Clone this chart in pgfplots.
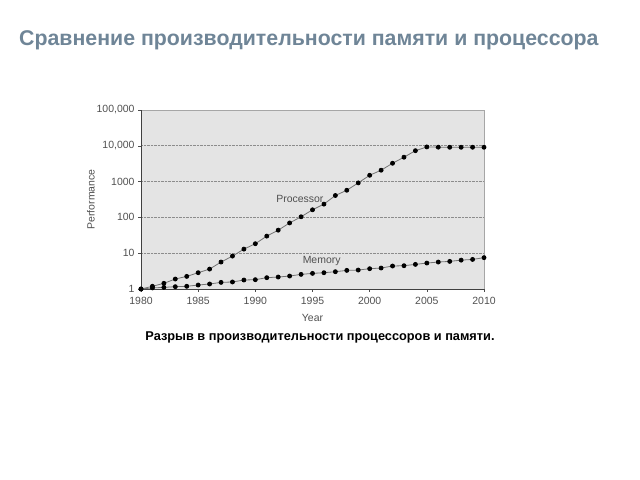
\documentclass[border=0pt]{standalone}
\usepackage{fontspec}
\setmainfont{Liberation Sans}
\usepackage{pgfplots}
\pgfplotsset{compat=1.18}
\definecolor{titlecol}{HTML}{6F8597}
\definecolor{bgfill}{HTML}{E4E4E4}
\definecolor{txtgray}{HTML}{505050}
\begin{document}
\begin{tikzpicture}[x=1bp,y=1bp]
\path[use as bounding box] (0,0) rectangle (640,480);
\node[anchor=west,inner sep=0,text=titlecol,font=\fontsize{21.4}{25}\selectfont\bfseries] at (19,440) {Сравнение производительности памяти и процессора};
\node[anchor=center,inner sep=0,text=black,font=\fontsize{12.8}{15}\selectfont\bfseries] at (320,143) {Разрыв в производительности процессоров и памяти.};
\begin{axis}[
  at={(141bp,191bp)}, anchor=south west,
  scale only axis, width=343bp, height=179bp,
  ymode=log, xmin=1980, xmax=2010, ymin=1, ymax=100000,
  axis background/.style={fill=bgfill},
  axis line style={draw=black!35},
  separate axis lines,
  axis x line*=box, axis y line*=box,
  ytick={1,10,100,1000,10000,100000},
  yticklabels={1,10,100,1000,{10,000},{100,000}},
  xtick={1980,1985,1990,1995,2000,2005,2010},
  xticklabels={1980,1985,1990,1995,2000,2005,2010},
  minor tick num=0, yminorticks=false,
  tick align=outside, major tick length=3bp,
  tick style={draw=black!70, thin},
  xtick pos=bottom, ytick pos=left,
  ymajorgrids, grid style={densely dotted, draw=black!45, line width=0.6pt},
  ticklabel style={font=\fontsize{10.5}{12}\selectfont, text=txtgray},
  xticklabel style={yshift=-2bp},
  /pgf/number format/assume math mode=true,
  xlabel={Year}, ylabel={Performance},
  label style={font=\fontsize{10.5}{12}\selectfont, text=txtgray},
  xlabel style={yshift=-3bp},
  ylabel style={yshift=-5bp},
  clip=false,
]
\draw[black!75, line width=0.8pt] (rel axis cs:0,0) -- (rel axis cs:0,1);
\draw[black!75, line width=0.8pt] (rel axis cs:0,0) -- (rel axis cs:1,0);
\addplot[black!55, line width=0.8pt, mark=*, mark size=2bp, mark options={fill=black, draw=black}] coordinates {
(1980,1.0) (1981,1.19) (1982,1.44) (1983,1.9) (1984,2.25) (1985,2.85)
(1986,3.6) (1987,5.66) (1988,8.3) (1989,13) (1990,18.4) (1991,30)
(1992,44) (1993,70) (1994,104) (1995,163) (1996,235) (1997,409)
(1998,573) (1999,920) (2000,1500) (2001,2080) (2002,3250) (2003,4800)
(2004,7300) (2005,9300) (2006,9150) (2007,9100) (2008,9100) (2009,9100) (2010,9100)
};
\addplot[black!55, line width=0.8pt, mark=*, mark size=2bp, mark options={fill=black, draw=black}] coordinates {
(1980,1.0) (1981,1.07) (1982,1.11) (1983,1.16) (1984,1.19) (1985,1.29)
(1986,1.38) (1987,1.53) (1988,1.57) (1989,1.78) (1990,1.82) (1991,2.07)
(1992,2.16) (1993,2.3) (1994,2.56) (1995,2.73) (1996,2.85) (1997,3.04)
(1998,3.31) (1999,3.38) (2000,3.69) (2001,3.85) (2002,4.38) (2003,4.47)
(2004,4.87) (2005,5.3) (2006,5.66) (2007,5.9) (2008,6.4) (2009,6.7) (2010,7.5)
};
\node[font=\fontsize{10.5}{12}\selectfont, text=txtgray] at (axis cs:1993.9,327) {Processor};
\node[font=\fontsize{10.5}{12}\selectfont, text=txtgray] at (axis cs:1995.8,5.9) {Memory};
\end{axis}
\end{tikzpicture}
\end{document}
